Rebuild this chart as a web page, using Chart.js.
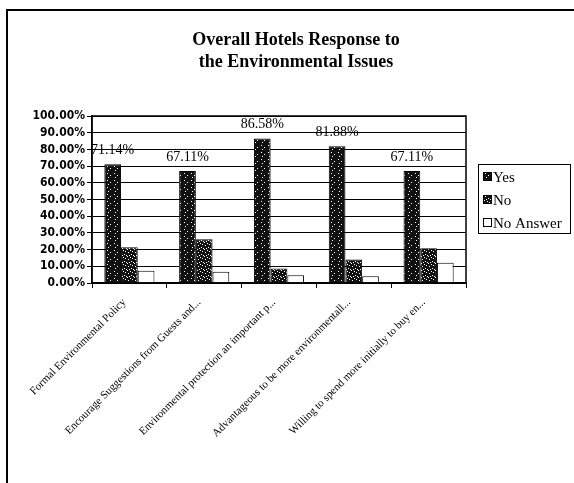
<!DOCTYPE html>
<html lang="en">
<head>
    <meta charset="UTF-8">
    <title>Overall Hotels Response to the Environmental Issues</title>
    <script src="https://cdn.jsdelivr.net/npm/chart.js"></script>
    <style>
        html, body { margin: 0; padding: 0; background: #fff; }
        #frame {
            position: absolute; left: 6px; top: 9px;
            width: 568px; height: 474px;
            border-top: 2px solid #000; border-left: 2px solid #000;
        }
        #chart { display: block; }
    </style>
</head>
<body>
    <div id="frame">
        <canvas id="chart" width="566" height="472"></canvas>
    </div>

    <script>
        // values
        const categories = [
            'Formal Environmental Policy',
            'Encourage Suggestions from Guests and...',
            'Environmental protection an important p...',
            'Advantageous to be more environmentall...',
            'Willing to spend more initially to buy en...'
        ];
        const seriesNames = ['Yes', 'No', 'No Answer'];
        const yesValues = [71.14, 67.11, 86.58, 81.88, 67.11];
        const noValues = [21.48, 26.17, 8.72, 14.09, 20.81];
        const noAnswerValues = [7.38, 6.71, 4.70, 4.03, 12.08];

        const serif = '"Liberation Serif", "Times New Roman", serif';
        const narrow = '"Liberation Sans Narrow", "DejaVu Sans Condensed", sans-serif';

        // speckled fill like the scanned bars
        function speckle(dots) {
            const c = document.createElement('canvas');
            c.width = 7; c.height = 7;
            const g = c.getContext('2d');
            g.fillStyle = '#111';
            g.fillRect(0, 0, 7, 7);
            g.fillStyle = '#fff';
            dots.forEach(d => g.fillRect(d[0], d[1], 1, 1));
            return g.createPattern(c, 'repeat');
        }
        const yesFill = speckle([[1, 1], [4, 3], [2, 5]]);
        const noFill = speckle([[0, 0], [3, 1], [5, 2], [1, 3], [4, 5], [6, 6], [2, 6]]);
        const fills = [yesFill, noFill, '#fff'];

        const extras = {
            id: 'extras',
            afterDatasetsDraw(chart) {
                const ctx = chart.ctx;
                const meta = chart.getDatasetMeta(0);
                ctx.save();
                ctx.fillStyle = '#000';
                ctx.font = '14px ' + serif;
                ctx.textAlign = 'center';
                ctx.textBaseline = 'middle';
                meta.data.forEach((bar, i) => {
                    ctx.fillText(yesValues[i].toFixed(2) + '%', bar.x, bar.y - 14);
                });
                ctx.restore();
            },
            afterDraw(chart) {
                const ctx = chart.ctx;
                const a = chart.chartArea;
                ctx.save();
                ctx.strokeStyle = '#000';
                ctx.lineWidth = 1.5;
                ctx.strokeRect(a.left, a.top, a.right - a.left, a.bottom - a.top);

                // legend box on the right
                const lx = a.right + 12, ly = Math.round((a.top + a.bottom) / 2) - 36;
                ctx.lineWidth = 1;
                ctx.strokeRect(lx + 0.5, ly + 0.5, 92, 69);
                ctx.font = '15px ' + serif;
                ctx.textAlign = 'left';
                ctx.textBaseline = 'middle';
                seriesNames.forEach((name, i) => {
                    const cy = ly + 13 + i * 23;
                    ctx.fillStyle = fills[i];
                    ctx.fillRect(lx + 5, cy - 5, 9, 9);
                    ctx.strokeStyle = '#000';
                    ctx.strokeRect(lx + 5.5, cy - 4.5, 8, 8);
                    ctx.fillStyle = '#000';
                    ctx.fillText(name, lx + 15, cy + 1);
                });
                ctx.restore();
            }
        };

        new Chart(document.getElementById('chart'), {
            type: 'bar',
            data: {
                labels: categories,
                datasets: [
                    { label: seriesNames[0], data: yesValues, backgroundColor: yesFill, borderColor: '#000', borderWidth: 1 },
                    { label: seriesNames[1], data: noValues, backgroundColor: noFill, borderColor: '#000', borderWidth: 1 },
                    { label: seriesNames[2], data: noAnswerValues, backgroundColor: '#fff', borderColor: '#000', borderWidth: 1 }
                ]
            },
            options: {
                responsive: false,
                animation: false,
                categoryPercentage: 0.67,
                barPercentage: 1.0,
                layout: { padding: { left: 10, right: 0, top: 0, bottom: 0 } },
                plugins: {
                    title: {
                        display: true,
                        text: ['Overall Hotels Response to', 'the Environmental Issues'],
                        color: '#000',
                        font: { family: serif, size: 18, weight: 'bold', lineHeight: 1.25 },
                        padding: { top: 18, bottom: 42 }
                    },
                    legend: { display: false },
                    tooltip: { enabled: false }
                },
                scales: {
                    x: {
                        afterFit(s) { s.height = 200; },
                        grid: { drawOnChartArea: false, color: '#000', tickLength: 5 },
                        border: { color: '#000', width: 1.5 },
                        ticks: {
                            color: '#000',
                            minRotation: 45,
                            maxRotation: 45,
                            autoSkip: false,
                            padding: 8,
                            labelOffset: -5,
                            font: { family: serif, size: 11 }
                        }
                    },
                    y: {
                        min: 0,
                        max: 100,
                        afterFit(s) { s.width = 74; },
                        grid: { color: '#000', tickLength: 5 },
                        border: { color: '#000', width: 1.5 },
                        ticks: {
                            stepSize: 10,
                            autoSkip: false,
                            color: '#000',
                            padding: 2,
                            font: { family: narrow, size: 12, weight: 'bold' },
                            callback: v => v.toFixed(2) + '%'
                        }
                    },
                    // empty right axis that only keeps room for the legend box
                    legendRoom: {
                        type: 'linear',
                        position: 'right',
                        min: 0,
                        max: 100,
                        afterFit(s) { s.width = 108; },
                        grid: { display: false },
                        border: { display: false },
                        ticks: { display: false }
                    }
                }
            },
            plugins: [extras]
        });
    </script>
</body>
</html>
